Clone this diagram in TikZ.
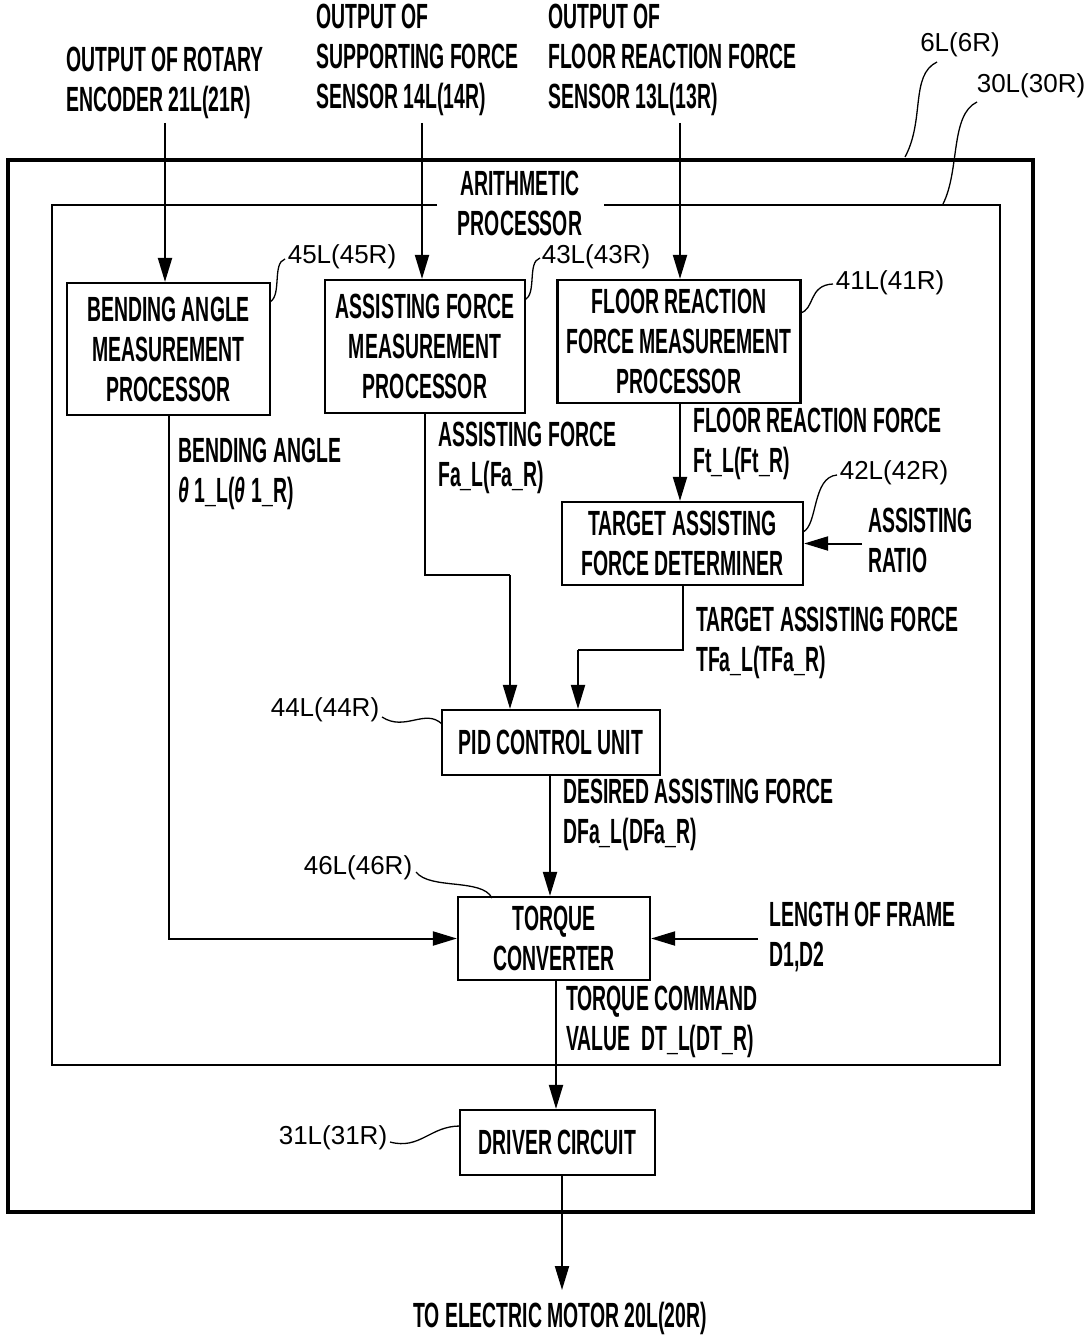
\documentclass[tikz,border=0pt]{standalone}
\usepackage{fontspec}
\setmainfont{Liberation Sans}
\newfontfamily\cf[FakeStretch=0.555]{Liberation Sans}
\usetikzlibrary{arrows.meta}
\begin{document}
\begin{tikzpicture}[x=1pt,y=-1pt,
  box/.style={draw, line width=2.2pt, align=center, inner sep=0pt,
    font=\cf\bfseries\fontsize{35}{40}\selectfont},
  lbl/.style={align=left, inner sep=0pt, anchor=west,
    font=\cf\bfseries\fontsize{35}{40}\selectfont},
  num/.style={inner sep=0pt, font=\fontsize{26}{30}\selectfont},
  arr/.style={line width=2pt, -{Triangle[length=24pt,width=14pt]}},
  ln/.style={line width=2pt},
  lead/.style={line width=1.3pt}]
\useasboundingbox (0,0) rectangle (1090,1337);
% frames
\draw[line width=4.5pt] (8,160) rectangle (1033,1212);
\draw[line width=2.4pt] (437,205) -- (52,205) -- (52,1065) -- (1000,1065) -- (1000,205) -- (604,205);
\node[lbl, anchor=center, align=center] (arith) at (520,203) {ARITHMETIC\\PROCESSOR};
\node[num] (n6) at (960,45) {6L(6R)};
\node[num] (n30) at (1031,86) {30L(30R)};
\draw[lead] (905,157) .. controls (925,120) and (910,75) .. (937,62);
\draw[lead] (943,204) .. controls (960,170) and (950,115) .. (977,102);
% inputs
\node[lbl] (t21) at (66,83) {OUTPUT OF ROTARY\\ENCODER 21L(21R)};
\node[lbl] (t14) at (316,60) {OUTPUT OF\\SUPPORTING FORCE\\SENSOR 14L(14R)};
\node[lbl] (t13) at (548,60) {OUTPUT OF\\FLOOR REACTION FORCE\\SENSOR 13L(13R)};
\coordinate (i21) at (165,123);
\coordinate (i14) at (422,123);
\coordinate (i13) at (680,123);
% boxes
\node[box, minimum width=203pt, minimum height=132pt] (b45) at (168.5,349) {BENDING ANGLE\\MEASUREMENT\\PROCESSOR};
\node[box, minimum width=200pt, minimum height=133pt] (b43) at (425,346.5) {ASSISTING FORCE\\MEASUREMENT\\PROCESSOR};
\node[box, minimum width=243pt, minimum height=123pt] (b41) at (679,341.5) {FLOOR REACTION\\FORCE MEASUREMENT\\PROCESSOR};
\node[box, minimum width=241pt, minimum height=83pt] (b42) at (682.5,543.5) {TARGET ASSISTING\\FORCE DETERMINER};
\node[box, minimum width=218pt, minimum height=65pt] (pid) at (551,742.5) {PID CONTROL UNIT};
\node[box, minimum width=192pt, minimum height=83pt] (tq) at (554,938.5) {TORQUE\\CONVERTER};
\node[box, minimum width=195pt, minimum height=65pt] (drv) at (557.5,1142.5) {DRIVER CIRCUIT};
% number labels
\node[num] (n45) at (342,257) {45L(45R)};
\node[num] (n43) at (596,257) {43L(43R)};
\node[num] (n41) at (890,283) {41L(41R)};
\node[num] (n42) at (894,473) {42L(42R)};
\node[num] (n44) at (325,710) {44L(44R)};
\node[num] (n46) at (358,868) {46L(46R)};
\node[num] (n31) at (333,1138) {31L(31R)};
\draw[lead] (270,302) .. controls (282,295) and (272,263) .. (285,259);
\draw[lead] (525,300) .. controls (537,293) and (527,262) .. (540,258);
\draw[lead] (800,313) .. controls (815,310) and (808,285) .. (833,284);
\draw[lead] (803,532) .. controls (818,525) and (812,477) .. (837,475);
\draw[lead] (382,717) .. controls (405,732) and (425,708) .. (442,724);
\draw[lead] (416,872) .. controls (430,890) and (482,878) .. (492,898);
\draw[lead] (390,1142) .. controls (420,1150) and (430,1126) .. (460,1126);
% signal labels
\node[lbl] (lba) at (178,474) {BENDING ANGLE\\{\itshape θ}\,1\_L({\itshape θ}\,1\_R)};
\node[lbl] (lfa) at (438,458) {ASSISTING FORCE\\Fa\_L(Fa\_R)};
\node[lbl] (lft) at (693,444) {FLOOR REACTION FORCE\\Ft\_L(Ft\_R)};
\node[lbl] (ltf) at (696,643) {TARGET ASSISTING FORCE\\TFa\_L(TFa\_R)};
\node[lbl] (ldf) at (563,815) {DESIRED ASSISTING FORCE\\DFa\_L(DFa\_R)};
\node[lbl] (llf) at (769,937) {LENGTH OF FRAME\\D1,D2};
\node[lbl] (ltc) at (566,1022) {TORQUE COMMAND\\VALUE\ \ DT\_L(DT\_R)};
\node[lbl] (lar) at (868,540) {ASSISTING\\RATIO};
\node[lbl, anchor=center] (lout) at (560,1318) {TO ELECTRIC MOTOR 20L(20R)};
% connectors
\draw[arr] (i21) -- (i21 |- b45.north);
\draw[arr] (i14) -- (i14 |- b43.north);
\draw[arr] (i13) -- (i13 |- b41.north);
\draw[arr] (b41.south -| i13) -- (i13 |- b42.north);
\coordinate (ratioin) at (862,543.5);
\draw[arr] (ratioin) -- (b42.east);
\coordinate (fa) at (510,575);
\draw[ln] (b43.south) |- (fa);
\draw[arr] (fa) -- (fa |- pid.north);
\coordinate (tf) at (578,650);
\draw[ln] (b42.south) |- (tf);
\draw[arr] (tf) -- (tf |- pid.north);
\draw[arr] (b45.south) |- (tq.west);
\coordinate (pidx) at (550,0);
\draw[arr] (pidx |- pid.south) -- (pidx |- tq.north);
\coordinate (framein) at (758,938.5);
\draw[arr] (framein) -- (tq.east);
\coordinate (tqx) at (556,0);
\draw[arr] (tqx |- tq.south) -- (tqx |- drv.north);
\coordinate (out) at (562,1290);
\draw[arr] (out |- drv.south) -- (out);
\end{tikzpicture}
\end{document}
